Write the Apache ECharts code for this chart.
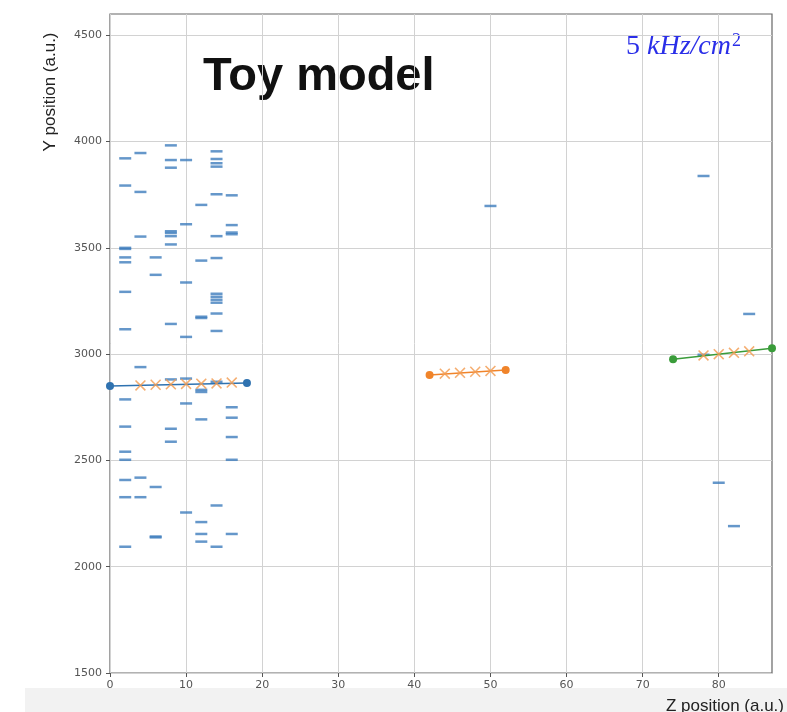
<!DOCTYPE html>
<html><head><meta charset="utf-8">
<script src="https://cdn.jsdelivr.net/npm/echarts@6/dist/echarts.min.js"></script>
<style>html,body{margin:0;padding:0;background:#fff}#c{width:787px;height:712px}</style>
</head><body><div id="c"></div>
<script>
// Hits (blue dashes): Z position and Y position
const hitZ = [
 2,2,2,2,2,2,2,2,2,2,2,2,2,2,2,
 4,4,4,4,4,4,
 6,6,6,6,6,
 8,8,8,8,8,8,8,8,8,8,8,
 10,10,10,10,10,10,10,
 12,12,12,12,12,12,12,12,12,12,
 14,14,14,14,14,14,14,14,14,14,14,14,14,14,14,14,
 16,16,16,16,16,16,16,16,16,
 50,78,78,80,82,84];
const hitY = [
 3921,3793,3500,3495,3455,3432,3293,3117,2787,2659,2541,2503,2408,2327,2094,
 3946,3763,3553,2939,2419,2327,
 3455,3373,2375,2142,2138,
 3982,3913,3877,3578,3570,3555,3516,3142,2881,2649,2588,
 3913,3611,3337,3081,2885,2768,2255,
 3702,3440,3176,3170,2832,2822,2693,2210,2154,2118,
 3954,3918,3898,3882,3752,3555,3452,3284,3270,3256,3242,3191,3109,2870,2288,2094,
 3747,3607,3572,3564,2750,2701,2610,2503,2154,
 3697,3838,2997,2395,2191,3189];

// Fitted tracks (end points)
const track1Z = [0, 18], track1Y = [2850, 2864];
const track2Z = [42, 52], track2Y = [2902, 2925];
const track3Z = [74, 87], track3Y = [2976, 3028];
// Track crossing points (crosses)
const cross1Z = [4,6,8,10,12,14,16], cross1Y = [2853,2856,2858,2860,2861,2862,2866];
const cross2Z = [44,46,48,50], cross2Y = [2908,2912,2917,2921];
const cross3Z = [78,80,82,84], cross3Y = [2994,3000,3006,3013];

const xTicks = [0,10,20,30,40,50,60,70,80];
const yTicks = [1500,2000,2500,3000,3500,4000,4500];

const zip = (a,b) => a.map((v,i)=>[v,b[i]]);
const XSYM = 'path://M0,1L1,0L5,4L9,0L10,1L6,5L10,9L9,10L5,6L1,10L0,9L4,5Z';

const chart = echarts.init(document.getElementById('c'));
const track = (z,y,color) => ({
  type:'line', data: zip(z,y), symbol:'circle', symbolSize:8, showSymbol:true,
  lineStyle:{color, width:1.6}, itemStyle:{color}, z:3, clip:false, animation:false
});
const crosses = (z,y) => ({
  type:'scatter', data: zip(z,y), symbol: XSYM, symbolSize:11,
  itemStyle:{color:'#f39a4e'}, z:4, animation:false
});
chart.setOption({
  animation:false,
  backgroundColor:'#ffffff',
  grid:{left:110, right:15, top:14, bottom:39, show:true, borderColor:'#666', borderWidth:1.2},
  xAxis:{type:'value', min:0, max:87, interval:10,
    axisLine:{show:false},
    axisTick:{show:true, length:4, customValues:xTicks, lineStyle:{color:'#555'}},
    axisLabel:{color:'#555', fontSize:11, fontFamily:'DejaVu Sans', margin:7, customValues:xTicks,
      formatter: v => String(v)},
    splitLine:{show:true, lineStyle:{color:'#d2d2d2', width:1}}},
  yAxis:{type:'value', min:1500, max:4600, interval:500,
    axisLine:{show:false},
    axisTick:{show:true, length:4, customValues:yTicks, lineStyle:{color:'#555'}},
    axisLabel:{color:'#555', fontSize:11, fontFamily:'DejaVu Sans', margin:8, customValues:yTicks,
      formatter: v => String(v)},
    splitLine:{show:true, lineStyle:{color:'#d2d2d2', width:1}}},
  graphic:[
    {type:'rect', left:25, top:688, shape:{width:762, height:24}, style:{fill:'#f2f2f2'}, z:-1},
    {type:'text', x:50, y:92, rotation:Math.PI/2, style:{text:'Y position (a.u.)', fill:'#222',
      font:'17px "Liberation Sans", Arial, sans-serif', align:'center', verticalAlign:'middle'}},
    {type:'text', x:784, y:698, style:{text:'Z position (a.u.)', fill:'#222', align:'right', verticalAlign:'top',
      font:'17px "Liberation Sans", Arial, sans-serif'}},
    {type:'text', x:203, y:77, style:{text:'Toy model', fill:'#111', verticalAlign:'middle',
      font:'bold 47px "Liberation Sans", Arial, sans-serif'}},
    {type:'text', left:626, top:32, style:{
      rich:{a:{fontFamily:'"Liberation Serif","DejaVu Serif",serif', fontSize:28, fill:'#2a2ee8', fontStyle:'normal'},
            b:{fontFamily:'"Liberation Serif","DejaVu Serif",serif', fontSize:28, fill:'#2a2ee8', fontStyle:'italic'},
            s:{fontFamily:'"Liberation Serif","DejaVu Serif",serif', fontSize:18, fill:'#2a2ee8', verticalAlign:'top', padding:[0,0,12,1]}},
      text:'{a|5 }{b|kHz/cm}{s|2}'}}
  ],
  series:[
    {type:'scatter', data: zip(hitZ,hitY), symbol:'rect', symbolSize:[12,2.5],
     itemStyle:{color:'#3f7dbd'}, z:2, animation:false},
    track(track1Z, track1Y, '#2f72b0'),
    track(track2Z, track2Y, '#f0842a'),
    track(track3Z, track3Y, '#3a9c3a'),
    crosses(cross1Z, cross1Y),
    crosses(cross2Z, cross2Y),
    crosses(cross3Z, cross3Y)
  ]
});
</script></body></html>
